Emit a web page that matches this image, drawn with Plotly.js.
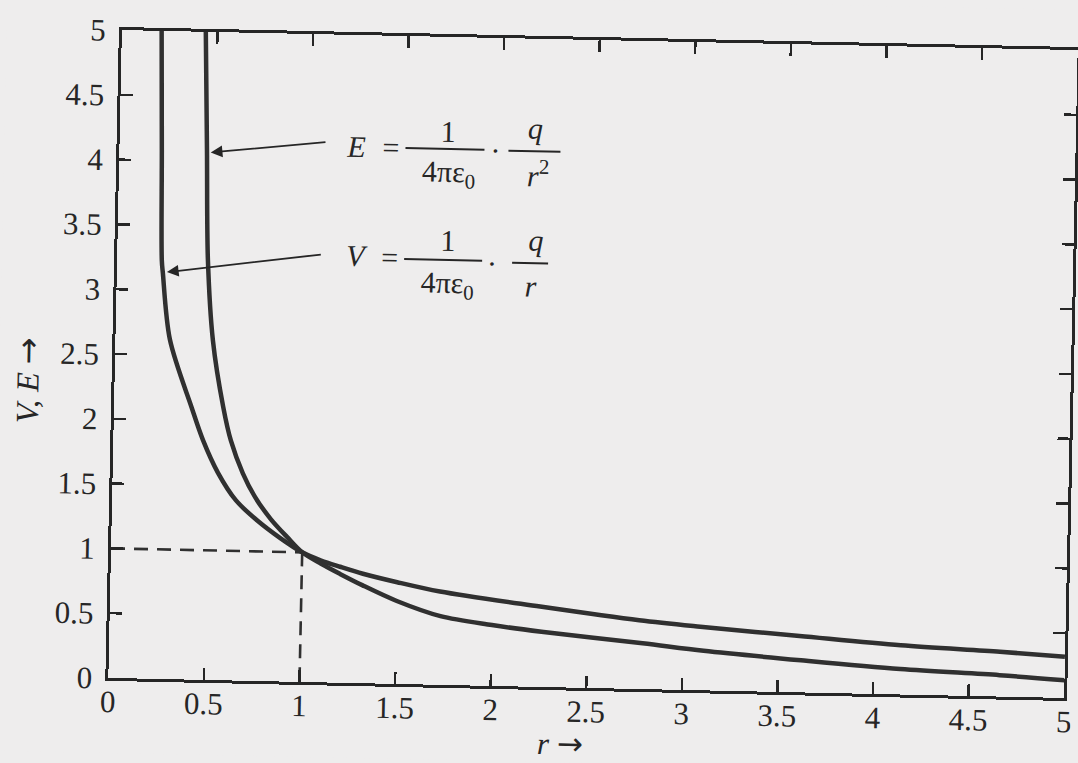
<!DOCTYPE html>
<html>
<head>
<meta charset="utf-8">
<script src="https://cdn.plot.ly/plotly-3.0.1.min.js"></script>
<style>
  html, body { margin: 0; padding: 0; background: #eeeded; overflow: hidden; }
  #chart { width: 1078px; height: 763px; transform-origin: 593px 364px; transform: rotate(1.2deg); }
</style>
</head>
<body>
<div id="chart"></div>
<script>
// Potential V of a point charge against distance r
const rV = [0.208, 0.222, 0.234, 0.241, 0.285, 0.406, 0.469, 0.551, 0.648, 0.760, 0.88, 1.0, 1.10, 1.20, 1.32, 1.50, 1.725, 2.25, 2.77, 3.09, 3.61, 4.14, 4.66, 5.0];
const valV = [5.0, 4.08, 3.23, 3.13, 2.62, 2.10, 1.85, 1.60, 1.39, 1.24, 1.11, 1.0, 0.94, 0.895, 0.845, 0.785, 0.72, 0.62, 0.53, 0.49, 0.435, 0.38, 0.346, 0.318];

// Field E of a point charge against distance r
const rE = [0.439, 0.458, 0.475, 0.51, 0.571, 0.615, 0.681, 0.747, 0.833, 0.92, 1.0, 1.10, 1.20, 1.32, 1.50, 1.73, 2.0, 2.26, 2.79, 3.11, 3.62, 4.14, 4.66, 5.0];
const valE = [5.0, 4.09, 3.24, 2.62, 2.11, 1.85, 1.60, 1.42, 1.25, 1.115, 1.0, 0.915, 0.84, 0.755, 0.64, 0.53, 0.47, 0.426, 0.353, 0.305, 0.248, 0.197, 0.165, 0.137];

// Point where both curves meet (r = 1, V = E = 1)
const meetR = [1];
const meetVal = [1];

// Axis ticks
const tickVals = [0, 0.5, 1, 1.5, 2, 2.5, 3, 3.5, 4, 4.5, 5];
const tickText = ['0', '0.5', '1', '1.5', '2', '2.5', '3', '3.5', '4', '4.5', '5'];

const ink = '#262626';
const serif = 'Liberation Serif, DejaVu Serif, serif';
const arrowGlyph = '<span style="font-family:DejaVu Sans">→</span>';

const curveLine = { color: '#303030', width: 4.5, shape: 'spline', smoothing: 0.9 };
const guideLine = { color: '#303030', width: 2.6, dash: '14px,9px' };

const traces = [
  { x: rV, y: valV, mode: 'lines', line: curveLine, hoverinfo: 'skip' },
  { x: rE, y: valE, mode: 'lines', line: curveLine, hoverinfo: 'skip' },
  { x: [0, meetR[0]], y: [meetVal[0], meetVal[0]], mode: 'lines', line: guideLine, hoverinfo: 'skip' },
  { x: [meetR[0], meetR[0]], y: [meetVal[0], 0], mode: 'lines', line: guideLine, hoverinfo: 'skip' }
];

// plot area in page pixels
const M = { l: 115, r: 7, t: 40, b: 75 };
const W = 1078, H = 763;
const PW = W - M.l - M.r, PH = H - M.t - M.b;
function px(x) { return (x - M.l) / PW; }
function py(y) { return (H - M.b - y) / PH; }

function label(text, x, y, size, extra) {
  return Object.assign({
    text: text, xref: 'paper', yref: 'paper', x: px(x), y: py(y),
    xanchor: 'center', yanchor: 'middle', showarrow: false,
    font: { family: serif, size: size, color: ink }
  }, extra || {});
}
function bar(x0, x1, y) {
  return { type: 'line', xref: 'paper', yref: 'paper', x0: px(x0), x1: px(x1), y0: py(y), y1: py(y),
           line: { color: ink, width: 2 } };
}

const annotations = [
  // axis titles
  label('<i>V, E</i> ' + arrowGlyph, 28, 392, 32, { textangle: -90 }),
  label('<i>r</i> ' + arrowGlyph, 568, 744, 31),

  // E = 1/(4πε0) · q/r²
  label('<i>E</i>', 351, 151, 30),
  label('=', 386, 151, 30),
  label('1', 443, 134, 30),
  label('4πε<sub>0</sub>', 444, 177, 30),
  label('·', 491, 152, 30),
  label('<i>q</i>', 530, 130, 30),
  label('<i>r</i><sup>2</sup>', 534, 175, 30),

  // V = 1/(4πε0) · q/r
  label('<i>V</i>', 355, 260, 30),
  label('=', 387, 261, 30),
  label('1', 445, 244, 30),
  label('4πε<sub>0</sub>', 445, 288, 30),
  label('·', 490, 265, 30),
  label('<i>q</i>', 533, 241, 30),
  label('<i>r</i>', 529, 287, 30),

  // pointers from the formulas to their curves
  { x: 0.478, y: 4.07, xref: 'x', yref: 'y', ax: 116, ay: -13, text: '', showarrow: true,
    arrowhead: 2, arrowsize: 1.3, arrowwidth: 1.8, arrowcolor: ink },
  { x: 0.262, y: 3.14, xref: 'x', yref: 'y', ax: 155, ay: -21, text: '', showarrow: true,
    arrowhead: 2, arrowsize: 1.3, arrowwidth: 1.8, arrowcolor: ink }
];

const shapes = [
  bar(401, 480, 152), bar(504, 556, 152.5),
  bar(402, 480, 263), bar(510, 546, 264.5)
];

const axisCommon = {
  range: [0, 5], tickmode: 'array', tickvals: tickVals, ticktext: tickText,
  ticks: 'inside', ticklen: 12, tickwidth: 2.5, tickcolor: ink,
  showline: true, linewidth: 3, linecolor: ink, mirror: 'ticks',
  showgrid: false, zeroline: false, fixedrange: true,
  ticklabeloverflow: 'allow',
  tickfont: { family: serif, size: 31, color: ink }
};

const layout = {
  width: W, height: H,
  margin: M,
  paper_bgcolor: '#eeeded', plot_bgcolor: '#eeeded',
  showlegend: false,
  xaxis: Object.assign({}, axisCommon, { ticklabelstandoff: -6 }),
  yaxis: Object.assign({}, axisCommon, { ticklabelstandoff: 7 }),
  annotations: annotations,
  shapes: shapes
};

Plotly.newPlot('chart', traces, layout, { displayModeBar: false, staticPlot: true });
</script>
</body>
</html>
